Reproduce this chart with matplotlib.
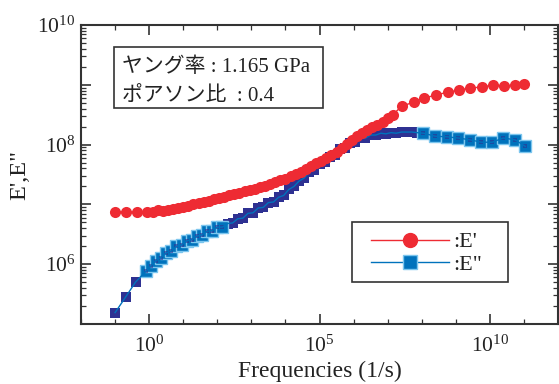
import matplotlib
matplotlib.use("Agg")
import matplotlib.pyplot as plt
import numpy as np
from matplotlib.lines import Line2D
from matplotlib.patches import Rectangle
from matplotlib.ticker import LogLocator, FixedLocator, FuncFormatter, NullFormatter

plt.rcParams['font.family'] = ['Liberation Serif', 'Noto Sans CJK JP']
plt.rcParams['mathtext.fontset'] = 'custom'
plt.rcParams['mathtext.rm'] = 'Liberation Serif'
plt.rcParams['mathtext.it'] = 'Liberation Serif:italic'

# ---------------- data (log10 values) ----------------
ep_logf = [-1.0, -0.68, -0.36, -0.05,
           0.1, 0.25, 0.4, 0.55, 0.7, 0.85, 1.0, 1.15, 1.3, 1.45, 1.6, 1.75, 1.9,
           2.05, 2.2, 2.35, 2.5, 2.65, 2.8, 2.95, 3.1, 3.25, 3.4, 3.55, 3.7, 3.85,
           4.0, 4.15, 4.3, 4.45, 4.6, 4.75, 4.9, 5.05, 5.2, 5.35, 5.5, 5.65, 5.8,
           5.95, 6.1, 6.25, 6.4, 6.55, 6.7, 6.85, 7.0, 7.15,
           7.41, 7.76, 8.08, 8.43, 8.78, 9.10, 9.43, 9.77, 10.10, 10.42, 10.74, 11.0]
ep_logE = [6.87, 6.87, 6.87, 6.88,
           6.88, 6.90, 6.89, 6.91, 6.92, 6.94, 6.95, 6.97, 7.00, 7.02, 7.04, 7.06, 7.09,
           7.11, 7.13, 7.15, 7.17, 7.19, 7.22, 7.24, 7.26, 7.29, 7.31, 7.34, 7.37, 7.40,
           7.43, 7.47, 7.51, 7.55, 7.60, 7.64, 7.69, 7.73, 7.78, 7.82, 7.87, 7.94, 8.01,
           8.08, 8.14, 8.19, 8.24, 8.29, 8.33, 8.38, 8.44, 8.50,
           8.64, 8.71, 8.78, 8.83, 8.88, 8.91, 8.95, 8.96, 9.00, 8.98, 9.00, 9.01]

epp_logf = [-1.0, -0.69, -0.40, -0.10,
            0.05, 0.2, 0.35, 0.5, 0.65, 0.8, 0.95, 1.1, 1.25, 1.4, 1.55, 1.7, 1.85,
            2.0, 2.15, 2.3, 2.45, 2.6, 2.75, 2.9, 3.05, 3.2, 3.35, 3.5, 3.65, 3.8,
            3.95, 4.1, 4.25, 4.4, 4.55, 4.7, 4.85, 5.0, 5.15, 5.3, 5.45, 5.6, 5.75,
            5.9, 6.05, 6.2, 6.35, 6.5, 6.65, 6.8, 6.95, 7.1, 7.25,
            7.41, 7.56, 7.71, 7.86,
            8.05, 8.40, 8.75, 9.07, 9.42, 9.75, 10.07, 10.39, 10.74, 11.04]
epp_logE = [5.19, 5.45, 5.70, 5.88,
            5.97, 6.06, 6.11, 6.19, 6.22, 6.30, 6.32, 6.39, 6.41, 6.47, 6.49, 6.55, 6.56,
            6.62, 6.62, 6.68, 6.69, 6.76, 6.77, 6.85, 6.86, 6.94, 6.95, 7.03, 7.04, 7.12,
            7.15, 7.25, 7.30, 7.39, 7.44, 7.54, 7.58, 7.67, 7.71, 7.80, 7.83, 7.92, 7.95,
            8.03, 8.04, 8.11, 8.11, 8.16, 8.16, 8.19, 8.18, 8.20, 8.19,
            8.21, 8.21, 8.21, 8.20,
            8.19, 8.14, 8.13, 8.11, 8.08, 8.04, 8.04, 8.11, 8.08, 7.97]

box_lines = ["ヤング率 : 1.165 GPa", "ポアソン比  : 0.4"]
legend_labels = [":E'", ':E"']
xlabel = "Frequencies (1/s)"
ylabel = "E',E\""

# ---------------- styles ----------------
RED = '#EE2B33'
BLUE = '#0072BC'
BLUE_EDGE = '#7CC6EE'
NAVY = '#2E3192'
SPINE = '#333333'
TXT = '#222222'

fig = plt.figure(figsize=(5.59, 3.84), dpi=100)
ax = fig.add_axes([81/559, 60/384, 477/559, 299/384])

f_ep = 10.0 ** np.array(ep_logf)
E_ep = 10.0 ** np.array(ep_logE)
f_epp = 10.0 ** np.array(epp_logf)
E_epp = 10.0 ** np.array(epp_logE)

# E'
ax.plot(f_ep, E_ep, color=RED, lw=1.0, zorder=3)
ax.plot(f_ep, E_ep, ls='none', marker='o', ms=8, mfc=RED, mec=RED, mew=0, zorder=4)

# E''
lx = np.array(epp_logf)
navy_mask = (lx < -0.2) | ((lx > 2.25) & (lx < 7.95))
blue_mask = ~navy_mask
ax.plot(f_epp[navy_mask], E_epp[navy_mask], ls='none', marker='s', ms=7.8,
        mfc=NAVY, mec=NAVY, mew=0, zorder=3)
ax.plot(f_epp[blue_mask], E_epp[blue_mask], ls='none', marker='s', ms=8.0,
        mfc=BLUE, mec=BLUE_EDGE, mew=1.0, zorder=3)
ax.plot(f_epp[blue_mask], E_epp[blue_mask], ls='none', marker='s', ms=3.0,
        mfc=NAVY, mec=NAVY, mew=0, alpha=0.6, zorder=3.5)
ax.plot(f_epp, E_epp, color=BLUE, lw=1.0, zorder=3.6)

ax.set_xscale('log')
ax.set_yscale('log')
ax.set_xlim(1e-2, 1e12)
ax.set_ylim(1e5, 1e10)

# ticks
ax.xaxis.set_major_locator(FixedLocator([1e0, 1e5, 1e10]))
ax.xaxis.set_minor_locator(FixedLocator([10.0 ** k for k in range(-2, 13)]))
ax.xaxis.set_minor_formatter(NullFormatter())
ax.xaxis.set_major_formatter(FuncFormatter(lambda v, p: r'$\mathregular{10^{%d}}$' % round(np.log10(v))))

ax.yaxis.set_major_locator(LogLocator(base=10, numticks=20))
ax.yaxis.set_minor_locator(LogLocator(base=10, subs=np.arange(2, 10), numticks=20))
ax.yaxis.set_minor_formatter(NullFormatter())
def yfmt(v, p):
    k = round(np.log10(v))
    return r'$\mathregular{10^{%d}}$' % k if k in (6, 8, 10) else ''
ax.yaxis.set_major_formatter(FuncFormatter(yfmt))

ax.tick_params(which='both', direction='in', top=True, right=True, colors=SPINE,
               labelcolor=TXT)
ax.tick_params(which='major', length=7, width=1.2, labelsize=15.5)
ax.tick_params(which='minor', length=3.5, width=0.9)
ax.tick_params(axis='x', which='major', pad=8)
ax.tick_params(axis='y', which='major', pad=4)

for s in ax.spines.values():
    s.set_color(SPINE)
    s.set_linewidth(1.5)

ax.set_xlabel(xlabel, fontsize=17, color=TXT, labelpad=3.5)
ax.set_ylabel(ylabel, fontsize=17.5, color=TXT, labelpad=5)

# info box
ax.add_patch(Rectangle((33/477, 216/299), 209/477, 61/299, transform=ax.transAxes,
                       fill=True, fc='white', ec=SPINE, lw=1.2, zorder=5))
ax.text(41/477, 257/299, box_lines[0], transform=ax.transAxes, fontsize=15,
        va='center', ha='left', color=TXT, zorder=6)
ax.text(41/477, 228/299, box_lines[1], transform=ax.transAxes, fontsize=15,
        va='center', ha='left', color=TXT, zorder=6)

# legend (frame drawn as a rectangle)
ax.add_patch(Rectangle((271/477, 42/299), 156/477, 60/299, transform=ax.transAxes,
                       fill=True, fc='white', ec=SPINE, lw=1.2, zorder=5))
handles = [Line2D([], [], color=RED, lw=1.0, marker='o', ms=10, mfc=RED, mec=RED),
           Line2D([], [], color=BLUE, lw=1.0, marker='s', ms=10, mfc=BLUE, mec=BLUE_EDGE)]
leg = ax.legend(handles, legend_labels, loc='center left',
                bbox_to_anchor=(290/477, 70.5/299), frameon=False,
                fontsize=16, handlelength=3.5, handletextpad=0.2,
                borderpad=0, labelspacing=0.1, borderaxespad=0)
leg.set_zorder(6)
for t in leg.get_texts():
    t.set_color(TXT)

fig.savefig('out.png', dpi=100)
